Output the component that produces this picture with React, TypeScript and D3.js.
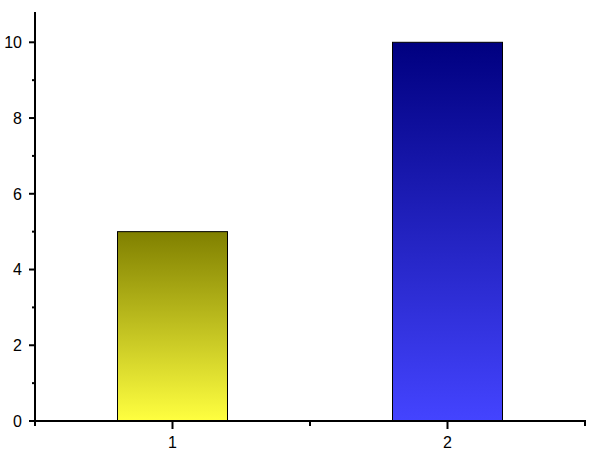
import React from 'react';
import * as d3 from 'd3';

const categories = [1, 2];
const values = [5, 10];
const topColors = ['#808000', '#000080'];
const bottomColors = ['#ffff40', '#4444ff'];
const yMajorTicks = [0, 2, 4, 6, 8, 10];
const yMinorTicks = [1, 3, 5, 7, 9];
const xMinorTicks = [0.5, 1.5, 2.5];

const width = 598;
const height = 463;
const margin = { top: 12, right: 13, bottom: 42, left: 35 };

export default function App() {
	const x = d3.scaleLinear().domain([0.5, 2.5]).range([margin.left, width - margin.right]);
	const y = d3.scaleLinear().domain([0, 10.8]).range([height - margin.bottom, margin.top]);
	const barW = x(1.4) - x(1);
	const y0 = y(0);

	return (
		<svg width={width} height={height} style={{ position: 'absolute', left: 0, top: 0, fontFamily: 'Liberation Sans, Arial, sans-serif' }}>
			<defs>
				{categories.map((c, i) => (
					<linearGradient key={c} id={`grad${i}`} x1="0" y1="0" x2="0" y2="1">
						<stop offset="0%" stopColor={topColors[i]} />
						<stop offset="100%" stopColor={bottomColors[i]} />
					</linearGradient>
				))}
			</defs>
			{categories.map((c, i) => (
				<rect key={c} x={x(c) - barW / 2} y={y(values[i])} width={barW} height={y0 - y(values[i])}
					fill={`url(#grad${i})`} stroke="#000" strokeWidth={1} />
			))}
			{/* y axis */}
			<line x1={x(0.5)} x2={x(0.5)} y1={margin.top} y2={y0 + 1} stroke="#000" strokeWidth={2} />
			{yMajorTicks.map(t => (
				<g key={t}>
					<line x1={x(0.5) - 6} x2={x(0.5)} y1={y(t)} y2={y(t)} stroke="#000" strokeWidth={2} />
					<text x={x(0.5) - 13} y={y(t)} dy="0.36em" textAnchor="end" fontSize={16}>{t}</text>
				</g>
			))}
			{yMinorTicks.map(t => (
				<line key={t} x1={x(0.5) - 3} x2={x(0.5)} y1={y(t)} y2={y(t)} stroke="#000" strokeWidth={2} />
			))}
			{/* x axis */}
			<line x1={x(0.5) - 1} x2={x(2.5) + 1} y1={y0} y2={y0} stroke="#000" strokeWidth={2} />
			{categories.map(c => (
				<g key={c}>
					<line x1={x(c)} x2={x(c)} y1={y0} y2={y0 + 8} stroke="#000" strokeWidth={2} />
					<text x={x(c)} y={y0 + 27} textAnchor="middle" fontSize={16}>{c}</text>
				</g>
			))}
			{xMinorTicks.map(t => (
				<line key={t} x1={x(t)} x2={x(t)} y1={y0} y2={y0 + 5} stroke="#000" strokeWidth={2} />
			))}
		</svg>
	);
}
